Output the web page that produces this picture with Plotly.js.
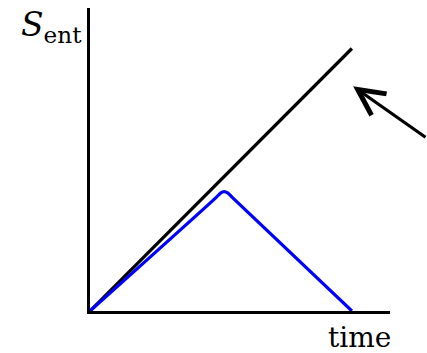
<!DOCTYPE html>
<html lang="en">
<head>
  <meta charset="utf-8" />
  <title>S_ent vs time</title>
  <script src="https://cdn.plot.ly/plotly-3.0.1.min.js"></script>
  <style>
    html, body { margin: 0; padding: 0; background: #fff; }
    #plot { width: 427px; height: 353px; }
  </style>
</head>
<body>
<div id="plot"></div>
<script>
// straight (black) curve
const timeRef = [0, 0.873];
const sRef = [0, 0.875];

// blue curve: rises, rounded peak, falls back to zero
const timeBlue = [0, 0.42, 0.435, 0.447, 0.46, 0.475, 0.873];
const sBlue = [0, 0.378, 0.393, 0.398, 0.393, 0.378, 0];

const serif = 'DejaVu Serif';

const traces = [
  {x: timeRef, y: sRef, type: 'scatter', mode: 'lines',
   line: {color: '#000000', width: 3.2}, hoverinfo: 'skip'},
  {x: timeBlue, y: sBlue, type: 'scatter', mode: 'lines',
   line: {color: '#0000ff', width: 3.2, shape: 'spline', smoothing: 0.6}, hoverinfo: 'skip'}
];

const layout = {
  width: 427,
  height: 353,
  margin: {l: 90, r: 37, t: 8, b: 42},
  showlegend: false,
  paper_bgcolor: '#ffffff',
  plot_bgcolor: '#ffffff',
  font: {family: serif, color: '#000000', size: 28},
  xaxis: {range: [0, 1], showline: true, linecolor: '#000000', linewidth: 3.2,
          showgrid: false, zeroline: false, showticklabels: false, ticks: ''},
  yaxis: {range: [0, 1.01], showline: true, linecolor: '#000000', linewidth: 3.2,
          showgrid: false, zeroline: false, showticklabels: false, ticks: ''},
  annotations: [
    {xref: 'paper', yref: 'paper', x: -0.127, y: 0.94, xanchor: 'center', yanchor: 'middle',
     text: '<i>S</i><sub>ent</sub>', showarrow: false, font: {family: serif, size: 33}},
    {xref: 'paper', yref: 'paper', x: 0.897, y: -0.088, xanchor: 'center', yanchor: 'middle',
     text: 'time', showarrow: false, font: {family: serif, size: 28}},
    {xref: 'x', yref: 'y', x: 0.877, y: 0.749, ax: 80, ay: 52, text: '',
     showarrow: true, arrowhead: 5, arrowsize: 1.6, arrowwidth: 3.2, arrowcolor: '#000000',
     standoff: 0}
  ]
};

Plotly.newPlot('plot', traces, layout, {staticPlot: true, displayModeBar: false});
</script>
</body>
</html>
